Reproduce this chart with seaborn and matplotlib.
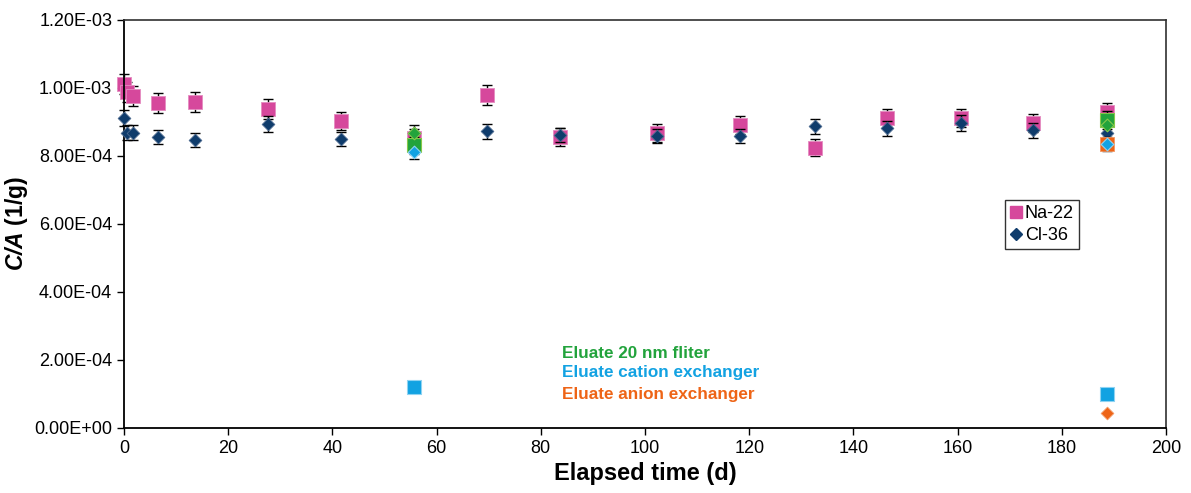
import matplotlib
matplotlib.use("Agg")
import matplotlib.pyplot as plt
import seaborn as sns
import numpy as np
import pandas as pd
from matplotlib.ticker import FuncFormatter, MultipleLocator
from matplotlib.lines import Line2D

# ---- data ----
times = [0, 0.6, 1.7, 6.6, 13.6, 27.6, 41.7, 55.6, 69.7, 83.6, 102.3, 118.3,
         132.6, 146.4, 160.6, 174.5, 188.7]
na22 = [1.011e-3, 0.987e-3, 0.975e-3, 0.955e-3, 0.958e-3, 0.937e-3, 0.902e-3,
        0.852e-3, 0.978e-3, 0.855e-3, 0.867e-3, 0.890e-3, 0.823e-3, 0.911e-3,
        0.911e-3, 0.896e-3, 0.928e-3]
cl36 = [0.911e-3, 0.867e-3, 0.867e-3, 0.855e-3, 0.846e-3, 0.893e-3, 0.849e-3,
        0.867e-3, 0.872e-3, 0.861e-3, 0.858e-3, 0.858e-3, 0.887e-3, 0.881e-3,
        0.896e-3, 0.875e-3, 0.867e-3]
na_err_frac = 0.03
cl_err_frac = 0.025

eluate_times = [55.6, 188.7]
filter_na = [0.831e-3, 0.905e-3]
filter_cl = [0.867e-3, 0.890e-3]
cation_na = [0.120e-3, 0.100e-3]
cation_cl = [0.811e-3, 0.834e-3]
anion_t = [188.7]
anion_na = [0.834e-3]
anion_cl = [0.044e-3]

annot_labels = ["Eluate 20 nm fliter", "Eluate cation exchanger", "Eluate anion exchanger"]

# ---- colours ----
c_na = "#D6489C"
c_cl = "#0F3C6C"
c_filter = "#22A33C"
c_cation = "#12A2E2"
c_anion = "#EE6416"

sns.set_theme(style="white")
plt.rcParams['font.family'] = ['Liberation Sans', 'DejaVu Sans']
plt.rcParams['text.color'] = 'black'
plt.rcParams['axes.labelcolor'] = 'black'
plt.rcParams['xtick.color'] = 'black'
plt.rcParams['ytick.color'] = 'black'
plt.rcParams['mathtext.fontset'] = 'custom'
plt.rcParams['mathtext.rm'] = 'Liberation Sans'
plt.rcParams['mathtext.bf'] = 'Liberation Sans:bold'
plt.rcParams['mathtext.bfit'] = 'Liberation Sans:italic:bold'

fig = plt.figure(figsize=(11.91, 4.93), dpi=100)
ax = fig.add_axes([124/1191, 65/493, (1166-124)/1191, (428-19.5)/493])

SQ = 92
DI = 42

def errs(t, v, frac, z):
    ax.errorbar(t, v, yerr=np.array(v) * frac, fmt='none', ecolor='black',
                elinewidth=1.0, capsize=3.5, capthick=1.0, zorder=z, clip_on=False)

df_na = pd.DataFrame({"t": times, "v": na22})
df_cl = pd.DataFrame({"t": times, "v": cl36})

errs(times, na22, na_err_frac, 1)
sns.scatterplot(data=df_na, x="t", y="v", marker="s", s=SQ, color=c_na,
                edgecolor="#E58CC0", linewidth=0.6, ax=ax, zorder=2, clip_on=False)
errs(times, cl36, cl_err_frac, 3)
sns.scatterplot(data=df_cl, x="t", y="v", marker="D", s=DI, color=c_cl,
                edgecolor="#4C6A90", linewidth=0.6, ax=ax, zorder=4, clip_on=False)

# eluates
errs(eluate_times, filter_na, na_err_frac, 5)
errs(eluate_times, cation_cl, cl_err_frac, 5)
sns.scatterplot(x=anion_t, y=anion_na, marker="s", s=SQ, color=c_anion,
                edgecolor="#F39A66", linewidth=0.6, ax=ax, zorder=6)
sns.scatterplot(x=anion_t, y=anion_cl, marker="D", s=DI, color=c_anion,
                edgecolor="#F39A66", linewidth=0.6, ax=ax, zorder=6)
sns.scatterplot(x=eluate_times, y=filter_na, marker="s", s=SQ, color=c_filter,
                edgecolor="#86C84A", linewidth=0.8, ax=ax, zorder=7)
sns.scatterplot(x=eluate_times, y=filter_cl, marker="D", s=DI, color=c_filter,
                edgecolor="#86C84A", linewidth=0.8, ax=ax, zorder=8)
sns.scatterplot(x=eluate_times, y=cation_na, marker="s", s=SQ, color=c_cation,
                edgecolor="#8FD3F2", linewidth=0.8, ax=ax, zorder=7)
sns.scatterplot(x=eluate_times, y=cation_cl, marker="D", s=DI, color=c_cation,
                edgecolor="#8FD3F2", linewidth=0.8, ax=ax, zorder=9)

# annotations
ann_colors = [c_filter, c_cation, c_anion]
ann_y = [0.220e-3, 0.162e-3, 0.098e-3]
for lab, col, yy in zip(annot_labels, ann_colors, ann_y):
    ax.text(84.1, yy, lab, color=col, fontsize=12.3, fontweight='bold',
            va='center', ha='left')

ax.set_xlim(0, 200)
ax.set_ylim(0, 1.2e-3)
ax.xaxis.set_major_locator(MultipleLocator(20))
ax.yaxis.set_major_locator(MultipleLocator(2e-4))
ax.yaxis.set_major_formatter(FuncFormatter(lambda v, p: f"{v:.2E}"))
ax.tick_params(axis='both', which='major', direction='out', length=5, width=1,
               labelsize=13, colors='black', left=True, bottom=True)
for s in ['left', 'bottom']:
    ax.spines[s].set_color('black')
    ax.spines[s].set_linewidth(1.3)
for s in ['top', 'right']:
    ax.spines[s].set_color('#303030')
    ax.spines[s].set_linewidth(1.2)

ax.set_xlabel("Elapsed time (d)", fontsize=17, fontweight='bold', labelpad=4)
ax.set_ylabel(r"$\mathbfit{C/A}$ (1/g)", fontsize=16.5, fontweight='bold', labelpad=3)

handles = [Line2D([], [], marker='s', color=c_na, linestyle='none', markersize=8),
           Line2D([], [], marker='D', color=c_cl, linestyle='none', markersize=6)]
leg = fig.legend(handles, ["Na-22", "Cl-36"], loc='upper left',
                 bbox_to_anchor=(1005/1191, 1 - 200/493), frameon=True,
                 fancybox=False, edgecolor='black', fontsize=13,
                 handlelength=0.6, handletextpad=0.2, borderpad=0.3,
                 labelspacing=0.25, borderaxespad=0)
leg.get_frame().set_linewidth(1.0)

fig.savefig("out.png", dpi=100)
